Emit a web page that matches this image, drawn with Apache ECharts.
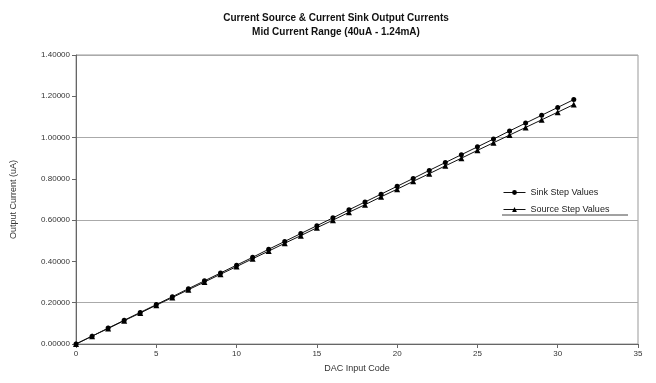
<!DOCTYPE html>
<html><head><meta charset="utf-8">
<script src="https://cdn.jsdelivr.net/npm/echarts@6/dist/echarts.min.js"></script>
<style>html,body{margin:0;padding:0;background:#fff}#c{width:656px;height:383px}</style>
</head><body><div id="c"></div>
<script>
var codes = [];
for (var i = 0; i <= 31; i++) codes.push(i);
var sinkValues = [0.000, 0.038, 0.077, 0.115, 0.153, 0.191, 0.229, 0.268, 0.306, 0.344, 0.382, 0.420, 0.459, 0.497, 0.535, 0.573, 0.611, 0.650, 0.688, 0.726, 0.764, 0.802, 0.841, 0.879, 0.917, 0.955, 0.993, 1.032, 1.070, 1.108, 1.146, 1.184];
var sourceValues = [0.000, 0.038, 0.075, 0.113, 0.150, 0.188, 0.225, 0.263, 0.300, 0.338, 0.375, 0.413, 0.450, 0.488, 0.525, 0.563, 0.600, 0.638, 0.675, 0.713, 0.750, 0.788, 0.825, 0.863, 0.900, 0.938, 0.975, 1.012, 1.049, 1.086, 1.123, 1.160];
var yTicks = ['0.00000','0.20000','0.40000','0.60000','0.80000','1.00000','1.20000','1.40000'];

function pairs(v){ return codes.map(function(c,i){ return [c, v[i]]; }); }
var F = 'Liberation Sans, Arial, sans-serif';
var chart = echarts.init(document.getElementById('c'), null, {renderer:'canvas'});
chart.setOption({
  animation:false,
  backgroundColor:'#fff',
  title:{
    text:'Current Source & Current Sink Output Currents\nMid Current Range (40uA - 1.24mA)',
    left:331, textAlign:'center', top:6,
    textStyle:{fontFamily:F, fontSize:10, fontWeight:'bold', color:'#111', lineHeight:14}
  },
  grid:{left:76, right:18, top:55, bottom:39, show:true, borderColor:'#999', borderWidth:1},
  legend:{
    orient:'vertical', left:498, top:183, itemGap:8, itemWidth:22, itemHeight:6,
    lineStyle:{width:1},
    textStyle:{fontFamily:F, fontSize:9, color:'#222'},
    data:['Sink Step Values','Source Step Values']
  },
  graphic:[{type:'line', shape:{x1:502, y1:215, x2:628, y2:215}, style:{stroke:'#444', lineWidth:1}}],
  xAxis:{
    type:'value', min:0, max:35, interval:5,
    name:'DAC Input Code', nameLocation:'middle', nameGap:20,
    nameTextStyle:{fontFamily:F, fontSize:9, color:'#333'},
    axisLine:{lineStyle:{color:'#666'}},
    axisTick:{show:true, length:4, lineStyle:{color:'#666'}},
    axisLabel:{fontFamily:F, fontSize:8, color:'#333', margin:6},
    splitLine:{show:false}
  },
  yAxis:{
    type:'value', min:0, max:1.4, interval:0.2,
    name:'Output Current (uA)', nameLocation:'middle', nameGap:58,
    nameTextStyle:{fontFamily:F, fontSize:9, color:'#333'},
    axisLine:{show:true, lineStyle:{color:'#666'}},
    axisTick:{show:true, length:4, lineStyle:{color:'#666'}},
    axisLabel:{fontFamily:F, fontSize:8, color:'#333', margin:6,
      formatter:function(v){ var i=Math.round(v/0.2); return yTicks[i]; }},
    splitLine:{show:true, lineStyle:{color:['rgba(0,0,0,0)','#aaa'], width:1}}
  },
  series:[
    {name:'Sink Step Values', type:'line', data:pairs(sinkValues), symbol:'circle', symbolSize:5,
     lineStyle:{color:'#111', width:1}, itemStyle:{color:'#000'}},
    {name:'Source Step Values', type:'line', data:pairs(sourceValues), symbol:'triangle', symbolSize:6,
     lineStyle:{color:'#111', width:1}, itemStyle:{color:'#000'}}
  ]
});
</script></body></html>
